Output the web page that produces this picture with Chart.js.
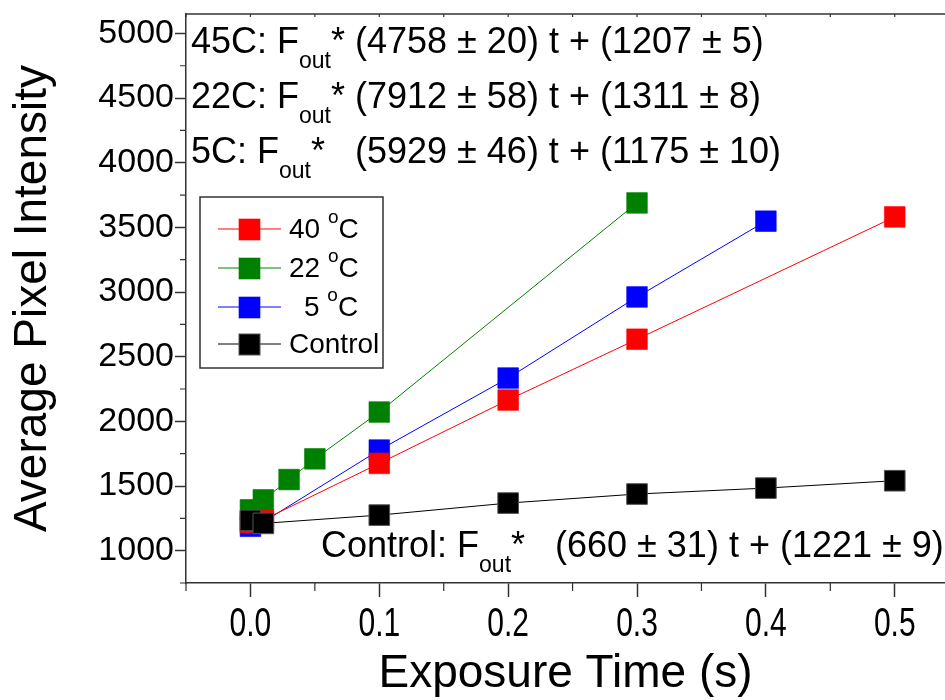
<!DOCTYPE html>
<html lang="en">
<head>
    <meta charset="UTF-8">
    <script src="https://cdn.jsdelivr.net/npm/chart.js@4.4.1/dist/chart.umd.min.js"></script>
    <title>Average Pixel Intensity vs Exposure Time</title>
    <style>
        html, body { margin: 0; padding: 0; background: #fff; overflow: hidden; }
        #chart-container { width: 945px; height: 700px; }
    </style>
</head>
<body>
    <div id="chart-container">
        <canvas id="intensityChart" width="945" height="700"></canvas>
    </div>

    <script>
        // exposure times (s) and average intensities, one pair of arrays per series
        const time40 = [0, 0.01, 0.1, 0.2, 0.3, 0.5];
        const int40 = [1217, 1238, 1675, 2165, 2635, 3581];
        const time22 = [0, 0.01, 0.03, 0.05, 0.1, 0.3];
        const int22 = [1316, 1393, 1550, 1710, 2072, 3689];
        const time5 = [0, 0.01, 0.1, 0.2, 0.3, 0.4];
        const int5 = [1189, 1222, 1778, 2335, 2962, 3548];
        const timeCtrl = [0, 0.01, 0.1, 0.2, 0.3, 0.4, 0.5];
        const intCtrl = [1234, 1211, 1275, 1368, 1438, 1484, 1541];

        const seriesNames = ['40 °C', '22 °C', ' 5 °C', 'Control'];
        const seriesColors = ['#ff0000', '#008000', '#0000ff', '#000000'];

        const xTickValues = [0, 0.1, 0.2, 0.3, 0.4, 0.5];
        const yTickValues = [1000, 1500, 2000, 2500, 3000, 3500, 4000, 4500, 5000];

        // fit equations: [before subscript, subscript, after subscript]
        const fitTexts = [
            ['45C: F', 'out', '* (4758 ± 20) t + (1207 ± 5)'],
            ['22C: F', 'out', '* (7912 ± 58) t + (1311 ± 8)'],
            ['5C: F', 'out', '*   (5929 ± 46) t + (1175 ± 10)']
        ];
        const fitControl = ['Control: F', 'out', '*   (660 ± 31) t + (1221 ± 9)'];

        const FONT = "'Liberation Sans', Arial, sans-serif";

        function toPoints(xs, ys) {
            return xs.map((t, i) => ({ x: t, y: ys[i] }));
        }

        function lighten(hex) {
            return hex === '#000000' ? '#555555' : hex + '99';
        }

        // "F" with subscript "out"
        function drawFitText(ctx, parts, x, y) {
            ctx.font = '36px ' + FONT;
            ctx.fillText(parts[0], x, y);
            x += ctx.measureText(parts[0]).width;
            ctx.font = '23px ' + FONT;
            ctx.fillText(parts[1], x, y + 15);
            x += ctx.measureText(parts[1]).width;
            ctx.font = '36px ' + FONT;
            ctx.fillText(parts[2], x, y);
        }

        // degree sign drawn as a raised "o"
        function drawLegendText(ctx, label, x, y) {
            const idx = label.indexOf('°');
            ctx.font = '28px ' + FONT;
            if (idx < 0) { ctx.fillText(label, x, y); return; }
            const before = label.slice(0, idx);
            const after = label.slice(idx + 1);
            ctx.fillText(before, x, y);
            x += ctx.measureText(before).width;
            ctx.font = '19px ' + FONT;
            ctx.fillText('o', x, y - 12);
            x += ctx.measureText('o').width;
            ctx.font = '28px ' + FONT;
            ctx.fillText(after, x, y);
        }

        const decorPlugin = {
            id: 'decor',
            afterDraw(chart) {
                const { ctx, chartArea: a, scales: { x, y } } = chart;
                ctx.save();
                ctx.strokeStyle = '#333';
                ctx.lineWidth = 1.5;

                // top frame line
                ctx.beginPath();
                ctx.moveTo(a.left, a.top);
                ctx.lineTo(a.right, a.top);
                ctx.stroke();

                // minor ticks, half way between the major ones
                ctx.lineWidth = 1.2;
                ctx.beginPath();
                for (let i = 0; i <= xTickValues.length; i++) {
                    const v = (i === 0 ? xTickValues[0] - 0.05 : xTickValues[i - 1] + 0.05);
                    if (v < x.min || v > x.max) continue;
                    const px = x.getPixelForValue(v);
                    ctx.moveTo(px, a.bottom);
                    ctx.lineTo(px, a.bottom + 8);
                }
                for (let i = 0; i <= yTickValues.length; i++) {
                    const v = (i === 0 ? yTickValues[0] - 250 : yTickValues[i - 1] + 250);
                    if (v < y.min || v > y.max) continue;
                    const py = y.getPixelForValue(v);
                    ctx.moveTo(a.left, py);
                    ctx.lineTo(a.left - 6, py);
                }
                // small ticks on the top frame
                for (let v = -0.05; v <= x.max; v += 0.05) {
                    const px = x.getPixelForValue(v);
                    ctx.moveTo(px, a.top);
                    ctx.lineTo(px, a.top + 3);
                }
                ctx.stroke();

                // x tick labels, narrow face
                ctx.fillStyle = '#000';
                ctx.textAlign = 'center';
                ctx.textBaseline = 'alphabetic';
                ctx.font = '40px ' + FONT;
                xTickValues.forEach(v => {
                    const px = x.getPixelForValue(v);
                    ctx.save();
                    ctx.translate(px, a.bottom + 53);
                    ctx.scale(0.75, 1);
                    ctx.fillText(v.toFixed(1), 0, 0);
                    ctx.restore();
                });

                // fit equations
                ctx.textAlign = 'left';
                fitTexts.forEach((parts, i) => drawFitText(ctx, parts, 191, 53 + i * 55));
                drawFitText(ctx, fitControl, 321, 557);

                // legend box
                const lx = 200, ly = 197, lw = 183, lh = 171;
                ctx.strokeStyle = '#333';
                ctx.lineWidth = 1.5;
                ctx.strokeRect(lx, ly, lw, lh);
                const rows = [229, 268, 307, 344];
                seriesNames.forEach((name, i) => {
                    const ry = rows[i];
                    ctx.strokeStyle = seriesColors[i];
                    ctx.lineWidth = 1;
                    ctx.beginPath();
                    ctx.moveTo(218, ry);
                    ctx.lineTo(281, ry);
                    ctx.stroke();
                    ctx.fillStyle = seriesColors[i];
                    ctx.fillRect(239, ry - 10, 21, 21);
                    ctx.strokeStyle = lighten(seriesColors[i]);
                    ctx.strokeRect(239, ry - 10, 21, 21);
                    ctx.fillStyle = '#000';
                    ctx.textBaseline = 'middle';
                    const tx = name.startsWith(' ') ? 304 : 289;
                    drawLegendText(ctx, name.trim(), tx, ry + 1);
                });
                ctx.restore();
            }
        };

        function makeDataset(label, xs, ys, color, order) {
            return {
                label: label,
                data: toPoints(xs, ys),
                borderColor: color,
                backgroundColor: color,
                borderWidth: 1,
                pointStyle: 'rect',
                pointRadius: 14.6,
                pointHoverRadius: 14.6,
                pointBackgroundColor: color,
                pointBorderColor: lighten(color),
                pointBorderWidth: 1,
                tension: 0,
                fill: false,
                order: order
            };
        }

        const ctx = document.getElementById('intensityChart').getContext('2d');
        new Chart(ctx, {
            type: 'line',
            data: {
                datasets: [
                    makeDataset(seriesNames[0], time40, int40, seriesColors[0], 1),
                    makeDataset(seriesNames[1], time22, int22, seriesColors[1], 3),
                    makeDataset(seriesNames[2], time5, int5, seriesColors[2], 2),
                    makeDataset(seriesNames[3], timeCtrl, intCtrl, seriesColors[3], 0)
                ]
            },
            options: {
                responsive: false,
                animation: false,
                layout: { autoPadding: false, padding: { top: 14, right: 0, left: 0, bottom: 0 } },
                plugins: {
                    legend: { display: false },
                    tooltip: { enabled: false }
                },
                scales: {
                    x: {
                        type: 'linear',
                        min: -0.05,
                        max: 0.539,
                        afterFit: s => {
                            s.height = 117;
                            s.paddingLeft = 0;
                            s.paddingRight = 0;
                        },
                        afterBuildTicks: s => { s.ticks = xTickValues.map(v => ({ value: v })); },
                        ticks: { display: false },
                        grid: {
                            drawOnChartArea: false,
                            drawTicks: true,
                            tickLength: 14,
                            tickColor: '#333',
                            tickWidth: 1.5
                        },
                        border: { color: '#333', width: 1.5 },
                        title: {
                            display: true,
                            text: 'Exposure Time (s)',
                            color: '#000',
                            font: { family: FONT, size: 46, lineHeight: 1 },
                            padding: { top: 0, bottom: 3 }
                        }
                    },
                    y: {
                        type: 'linear',
                        min: 750,
                        max: 5150,
                        afterFit: s => {
                            s.width = 186;
                            s.paddingTop = 0;
                            s.paddingBottom = 0;
                        },
                        afterBuildTicks: s => { s.ticks = yTickValues.map(v => ({ value: v })); },
                        ticks: {
                            color: '#000',
                            padding: 1,
                            font: { family: FONT, size: 34 },
                            callback: v => String(v)
                        },
                        grid: {
                            drawOnChartArea: false,
                            drawTicks: true,
                            tickLength: 11,
                            tickColor: '#333',
                            tickWidth: 1.5
                        },
                        border: { color: '#333', width: 1.5 },
                        title: {
                            display: true,
                            text: 'Average Pixel Intensity',
                            color: '#000',
                            font: { family: FONT, size: 46, lineHeight: 1 },
                            padding: { top: 10, bottom: 0 }
                        }
                    }
                }
            },
            plugins: [decorPlugin]
        });
    </script>
</body>
</html>
